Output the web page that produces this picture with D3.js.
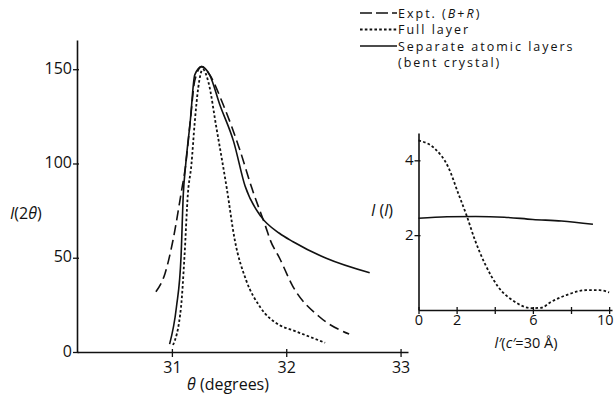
<!DOCTYPE html>
<html>
<head>
<meta charset="utf-8">
<script src="https://cdn.jsdelivr.net/npm/d3@7"></script>
<style>
body { margin: 0; background: #fff; }
text { font-family: "Open Sans", Lato, sans-serif; fill: #111; }
</style>
</head>
<body>
<div id="chart-area"></div>
<script>
// data: [theta (deg), I(2theta)]
var exptData = [[30.86,32],[30.94,41.7],[31.01,59.4],[31.08,84],[31.12,99],[31.16,122],[31.2,144],
	[31.26,151.4],[31.32,148],[31.45,131],[31.59,108],[31.7,86.8],[31.82,66.5],[31.86,59.4],
	[31.94,50],[32.06,34.6],[32.29,18.7],[32.55,9.5]]
var fullData = [[31.01,3.7],[31.08,24],[31.11,50.6],[31.14,84],[31.17,99],[31.2,122],[31.23,140],
	[31.27,150],[31.32,143],[31.39,118.7],[31.48,86.8],[31.55,59.4],[31.65,38],[31.77,24],
	[31.94,14.3],[32.06,11.5],[32.34,4.9]]
var sepData = [[30.98,4.2],[31.04,24],[31.08,50.6],[31.1,84],[31.12,99],[31.16,122],[31.2,147],
	[31.26,151.4],[31.33,147],[31.42,131],[31.54,111.6],[31.64,88],[31.78,71.8],[31.94,63],
	[32.06,58.5],[32.35,49.7],[32.73,42]]

// inset: [l', I(l)]
var insetFull = [[0,4.53],[0.86,4.31],[1.56,3.82],[2.09,3.11],[2.52,2.53],[2.96,1.87],[3.48,1.24],
	[4.18,0.62],[5.05,0.22],[5.93,0.05],[6.45,0.06],[6.9,0.2],[7.76,0.4],[8.8,0.53],[9.5,0.53],[10,0.47]]
var insetSep = [[0,2.45],[1.5,2.49],[3,2.5],[4.5,2.48],[6,2.42],[7.5,2.38],[9.15,2.29]]

var mainXTicks = [31,32,33]
var mainYTicks = [0,50,100,150]
var insetXTicks = [0,2,4,6,8,10]
var insetXLabels = [0,2,6,10]
var insetYTicks = [2,4]

var width = 615, height = 395

svg = d3.select('#chart-area').append('svg')
	.attr('width', width)
	.attr('height', height)

//styles for the three curves
var styles = {
	expt: {dash: '10,5', w: 1.6},
	full: {dash: '2.6,2.2', w: 1.8},
	sep: {dash: null, w: 1.6}
}

// main chart scales
var xScale = d3.scaleLinear().domain([30.17, 33.065]).range([77, 408])
var yScale = d3.scaleLinear().domain([0, 165.5]).range([352, 40])

// axes
var xAxis = d3.axisBottom(xScale).tickValues(mainXTicks).tickFormat(d3.format('d'))
	.tickSizeInner(5).tickSizeOuter(0).tickPadding(3)
var gx = svg.append('g').attr('transform', 'translate(0,' + yScale(0) + ')').call(xAxis)
var yAxis = d3.axisLeft(yScale).tickValues(mainYTicks).tickFormat(d3.format('d'))
	.tickSizeInner(4).tickSizeOuter(0).tickPadding(1)
var gy = svg.append('g').attr('transform', 'translate(' + xScale.range()[0] + ',0)').call(yAxis)

function styleAxis(g, fs){
	g.select('.domain').attr('stroke', '#111').attr('stroke-width', 1.6)
	g.selectAll('.tick line').attr('stroke', '#111').attr('stroke-width', 1.3)
	g.selectAll('.tick text').attr('font-size', fs).attr('fill', '#111')
		.style('font-family', '"Open Sans", sans-serif')
}
styleAxis(gx, '16px')
styleAxis(gy, '16px')
gx.selectAll('.tick line').attr('y1', -3)
gy.selectAll('.tick line').attr('x1', 2)
gy.selectAll('.tick text').attr('dy', '0.25em')
gx.selectAll('.tick text').attr('dy', '0.8em')

var line = d3.line()
	.x(function(d){ return xScale(d[0]) })
	.y(function(d){ return yScale(d[1]) })
	.curve(d3.curveMonotoneX)

function drawCurve(data, st, ln){
	svg.append('path')
		.datum(data)
		.attr('d', ln)
		.attr('fill', 'none')
		.attr('stroke', '#111')
		.attr('stroke-width', st.w)
		.attr('stroke-dasharray', st.dash)
}
drawCurve(exptData, styles.expt, line)
drawCurve(fullData, styles.full, line)
drawCurve(sepData, styles.sep, line)

// axis labels
var yl = svg.append('text').attr('x', 10).attr('y', 219).attr('font-size', '16px')
yl.append('tspan').attr('font-style', 'italic').text('I')
yl.append('tspan').text('(2')
yl.append('tspan').attr('font-style', 'italic').text('θ')
yl.append('tspan').text(')')

var xl = svg.append('text').attr('x', 228).attr('y', 390).attr('font-size', '16px').attr('text-anchor', 'middle')
xl.append('tspan').attr('font-style', 'italic').text('θ')
xl.append('tspan').text(' (degrees)')

// INSET
var ixScale = d3.scaleLinear().domain([0, 10.15]).range([418.5, 612])
var iyScale = d3.scaleLinear().domain([0, 4.73]).range([310, 133])

var ixAxis = d3.axisBottom(ixScale).tickValues(insetXTicks).tickSizeInner(4).tickSizeOuter(0).tickPadding(1)
	.tickFormat(function(d){ return insetXLabels.indexOf(d) >= 0 ? d : '' })
var igx = svg.append('g').attr('transform', 'translate(0,' + iyScale(0) + ')').call(ixAxis)
var iyAxis = d3.axisLeft(iyScale).tickValues(insetYTicks).tickFormat(d3.format('d'))
	.tickSizeInner(4).tickSizeOuter(0).tickPadding(1)
var igy = svg.append('g').attr('transform', 'translate(' + ixScale(0) + ',0)').call(iyAxis)
styleAxis(igx, '14.5px')
styleAxis(igy, '15px')
igx.selectAll('.tick line').attr('y1', -3)
igy.selectAll('.tick line').attr('x1', 2)
igy.selectAll('.tick text').attr('dy', '0.3em')
igx.selectAll('.tick text').attr('dy', '0.7em')
igx.selectAll('.tick text').filter(function(d){ return d == 10 }).attr('text-anchor', 'end').attr('dx', '4')

var iline = d3.line()
	.x(function(d){ return ixScale(d[0]) })
	.y(function(d){ return iyScale(d[1]) })
	.curve(d3.curveMonotoneX)
drawCurve(insetFull, styles.full, iline)
drawCurve(insetSep, styles.sep, iline)

var il = svg.append('text').attr('x', 371).attr('y', 216).attr('font-size', '16px')
il.append('tspan').attr('font-style', 'italic').text('I')
il.append('tspan').text(' (')
il.append('tspan').attr('font-style', 'italic').text('l')
il.append('tspan').text(')')

var ixl = svg.append('text').attr('x', 526).attr('y', 348).attr('font-size', '14.5px').attr('text-anchor', 'middle')
ixl.append('tspan').attr('font-style', 'italic').text('l′')
ixl.append('tspan').text('(')
ixl.append('tspan').attr('font-style', 'italic').text('c′')
ixl.append('tspan').text('=30 Å)')

// LEGEND
var legend = svg.append('g')
var legItems = [
	{st: styles.expt, y: 13, parts: [['Expt. (', false], ['B', true], ['+', false], ['R', true], [')', false]]},
	{st: styles.full, y: 29.5, parts: [['Full layer', false]]},
	{st: styles.sep, y: 46, parts: [['Separate atomic layers', false]]}
]
legItems.forEach(function(it){
	legend.append('line')
		.attr('x1', 360).attr('x2', 397)
		.attr('y1', it.y).attr('y2', it.y)
		.attr('stroke', '#111')
		.attr('stroke-width', it.st.w)
		.attr('stroke-dasharray', it.st.dash == '10,5' ? '12,4' : it.st.dash)
	var t = legend.append('text').attr('x', 398).attr('y', it.y + 4.5)
		.attr('font-size', '12.5px').style('letter-spacing', '2px')
	it.parts.forEach(function(p){
		t.append('tspan').attr('font-style', p[1] ? 'italic' : null).text(p[0])
	})
})
legend.append('text').attr('x', 398).attr('y', 67).attr('font-size', '12.5px')
	.style('letter-spacing', '2px').text('(bent crystal)')
</script>
</body>
</html>
